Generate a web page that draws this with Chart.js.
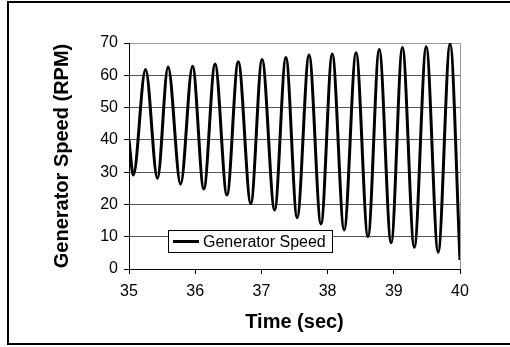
<!DOCTYPE html>
<html>
<head>
<meta charset="utf-8">
<script src="https://cdn.jsdelivr.net/npm/chart.js@4/dist/chart.umd.min.js"></script>
<style>
  html, body { margin: 0; padding: 0; background: #fff; }
  #wrap { width: 510px; height: 347px; position: relative; }
</style>
</head>
<body>
<div id="wrap"><canvas id="c" width="510" height="347"></canvas></div>
<script>
// Time (sec) of each read point (start, troughs and peaks, end)
const times = [35, 35.065, 35.25, 35.43, 35.59, 35.78, 35.96, 36.13, 36.30, 36.48, 36.65,
  36.84, 37.01, 37.20, 37.37, 37.54, 37.72, 37.90, 38.07, 38.25, 38.43, 38.61, 38.78,
  38.96, 39.13, 39.31, 39.49, 39.67, 39.85, 40];
// Generator speed (RPM) at those times
const speeds = [40, 29.1, 61.8, 28.1, 62.6, 26.3, 62.8, 24.8, 63.5, 22.9, 64.2,
  20.3, 64.9, 18.3, 65.5, 15.9, 66.3, 13.9, 66.6, 12.1, 67.0, 10.0, 68.0,
  8.1, 68.6, 6.7, 68.8, 5.2, 69.7, 2.8];
const seriesName = 'Generator Speed';
const xTitle = 'Time (sec)';
const yTitle = 'Generator Speed (RPM)';
const xMin = 35, xMax = 40, xStep = 1;
const yMin = 0, yMax = 70, yStep = 10;

const FONT = "'Liberation Sans', Arial, sans-serif";

const framePlugin = {
  id: 'frame',
  beforeDraw(chart) {
    const ctx = chart.ctx;
    ctx.save();
    ctx.fillStyle = '#fff';
    ctx.fillRect(0, 0, chart.width, chart.height);
    ctx.strokeStyle = '#000';
    ctx.lineWidth = 2;
    ctx.strokeRect(8, 2, 520, 342);
    ctx.restore();
  },
  beforeDatasetsDraw(chart) {
    const {ctx, chartArea: a} = chart;
    ctx.save();
    ctx.strokeStyle = '#999';
    ctx.lineWidth = 1;
    ctx.beginPath();
    ctx.moveTo(a.right + 0.5, a.top);
    ctx.lineTo(a.right + 0.5, a.bottom);
    ctx.stroke();
    ctx.restore();
  },
  afterDatasetsDraw(chart) {
    const {ctx, chartArea: a} = chart;
    const bx = a.left + 39, by = a.top + 187, bw = 164, bh = 22;
    ctx.save();
    ctx.fillStyle = '#fff';
    ctx.fillRect(bx, by, bw, bh);
    ctx.strokeStyle = '#000';
    ctx.lineWidth = 1;
    ctx.strokeRect(bx + 0.5, by + 0.5, bw, bh);
    const cy = by + bh / 2 + 0.5;
    ctx.lineWidth = 3;
    ctx.beginPath();
    ctx.moveTo(bx + 5, cy);
    ctx.lineTo(bx + 31, cy);
    ctx.stroke();
    ctx.fillStyle = '#000';
    ctx.font = '16px ' + FONT;
    ctx.textBaseline = 'middle';
    ctx.textAlign = 'left';
    ctx.fillText(chart.data.datasets[0].label, bx + 35, cy + 1);
    ctx.restore();
  }
};

new Chart(document.getElementById('c'), {
  type: 'line',
  data: {
    datasets: [{
      label: seriesName,
      data: times.map((t, i) => ({x: t, y: speeds[i]})),
      borderColor: '#000',
      borderWidth: 3,
      pointRadius: 0,
      fill: false,
      cubicInterpolationMode: 'monotone'
    }]
  },
  options: {
    responsive: false,
    animation: false,
    devicePixelRatio: 1,
    layout: { padding: { left: 0, right: 50, top: 43, bottom: 0 } },
    plugins: { legend: { display: false }, tooltip: { enabled: false } },
    scales: {
      x: {
        type: 'linear',
        min: xMin, max: xMax,
        afterFit(s) { s.height = 78; },
        ticks: { stepSize: xStep, color: '#000', font: { size: 16, family: FONT }, padding: 8, maxRotation: 0 },
        grid: { drawOnChartArea: false, drawTicks: true, tickLength: 5, tickColor: '#000' },
        border: { color: '#000', width: 1 },
        title: { display: true, text: xTitle, color: '#000', font: { size: 20, weight: 'bold', family: FONT }, padding: { top: 0, bottom: 13 } }
      },
      y: {
        min: yMin, max: yMax,
        afterFit(s) { s.width = 129; },
        ticks: { stepSize: yStep, color: '#000', font: { size: 16, family: FONT }, padding: 6 },
        grid: {
          color: (c) => (c.tick && c.tick.value === yMax) ? '#999' : '#555',
          lineWidth: 1, drawTicks: true, tickLength: 5, tickColor: '#000'
        },
        border: { color: '#000', width: 1 },
        title: { display: true, text: yTitle, color: '#000', font: { size: 20, weight: 'bold', family: FONT }, padding: { top: 50, bottom: 0 } }
      }
    }
  },
  plugins: [framePlugin]
});
</script>
</body>
</html>
